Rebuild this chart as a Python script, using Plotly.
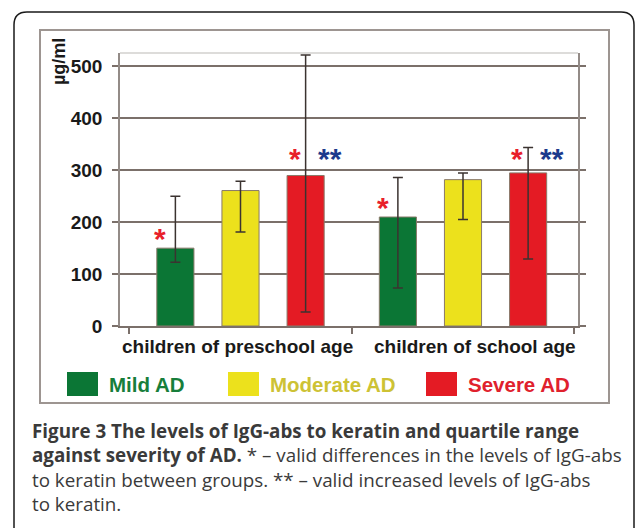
import plotly.graph_objects as go

categories = ["children of preschool age", "children of school age"]
severity = ["Mild AD", "Moderate AD", "Severe AD"]

mild_values = [150, 210]
moderate_values = [261, 282]
severe_values = [290, 295]

mild_upper = [250, 286]
mild_lower = [123, 73]
moderate_upper = [279, 295]
moderate_lower = [181, 205]
severe_upper = [522, 344]
severe_lower = [27, 129]

y_ticks = [0, 100, 200, 300, 400, 500]

# significance marks: (series, category index, text, kind)
star_marks = [
    ("Mild AD", 0, "*", "diff"),
    ("Severe AD", 0, "*", "diff"),
    ("Severe AD", 0, "**", "incr"),
    ("Mild AD", 1, "*", "diff"),
    ("Severe AD", 1, "*", "diff"),
    ("Severe AD", 1, "**", "incr"),
]
star_lift = [3, 10, 10, 3, 7, 7]

bar_colors = ["#0b7635", "#ece11c", "#e41b24"]
legend_text_colors = ["#177e3b", "#cdc234", "#e0212d"]
star_colors = {"diff": "#e8202a", "incr": "#1d3a8c"}

W, H = 635, 528
ML, MR, MT, MB = 120, 57, 53, 202
PW = W - ML - MR
PH = H - MT - MB
BARGAP = 0.122
GROUPGAP = 0.43
slot = PW / len(categories) * (1 - BARGAP) / len(severity)


def px(x):
    return (x - ML) / PW


def py(y):
    return (H - MB - y) / PH


values = [mild_values, moderate_values, severe_values]
uppers = [mild_upper, moderate_upper, severe_upper]
lowers = [mild_lower, moderate_lower, severe_lower]

fig = go.Figure()
for name, vals, up, lo, col in zip(severity, values, uppers, lowers, bar_colors):
    fig.add_bar(
        x=categories,
        y=vals,
        name=name,
        marker=dict(color=col, line=dict(color="#8a7a6a", width=1)),
        error_y=dict(
            type="data",
            symmetric=False,
            array=[u - v for u, v in zip(up, vals)],
            arrayminus=[v - l for v, l in zip(vals, lo)],
            color="#3b3330",
            thickness=1.5,
            width=5,
        ),
        showlegend=False,
    )

annotations = []
for (series, ci, txt, kind), lift in zip(star_marks, star_lift):
    si = severity.index(series)
    bar_off = (si - 1) * slot
    annotations.append(dict(
        x=categories[ci], y=values[si][ci], xref="x", yref="y",
        text=txt, showarrow=False,
        xshift=bar_off + (-13 if kind == "diff" else 22),
        yshift=lift + 7, xanchor="center", yanchor="middle",
        font=dict(family="Liberation Sans", size=30, weight="bold",
                  color=star_colors[kind]),
    ))

# category labels
for cat, shift in zip(categories, [-3, 12]):
    annotations.append(dict(
        x=cat, y=0, xref="x", yref="y", text=cat, showarrow=False,
        xshift=shift, yshift=-20, xanchor="center", yanchor="middle",
        font=dict(family="Liberation Sans", size=19, weight="bold", color="#1a1a1a"),
    ))

# axis unit
annotations.append(dict(
    x=px(59), y=py(62), xref="paper", yref="paper", text="µg/ml",
    textangle=-90, showarrow=False, xanchor="center", yanchor="middle",
    font=dict(family="Liberation Sans", size=18, weight="bold", color="#1a1a1a"),
))

shapes = []
# legend boxes
legend_sq_x = [67, 228, 426]
for name, col, tcol, x0 in zip(severity, bar_colors, legend_text_colors, legend_sq_x):
    shapes.append(dict(
        type="rect", xref="paper", yref="paper",
        x0=px(x0), x1=px(x0 + 31), y0=py(396), y1=py(372),
        fillcolor=col, line=dict(width=0),
    ))
    annotations.append(dict(
        x=px(x0 + 40), y=py(384), xref="paper", yref="paper", text=name,
        showarrow=False, xanchor="left", yanchor="middle",
        font=dict(family="Liberation Sans", size=20.5, weight="bold", color=tcol),
    ))

# caption
caption = (
    "<b>Figure 3 The levels of IgG-abs to keratin and quartile range</b><br>"
    "<b>against severity of AD.</b> * – valid differences in the levels of IgG-abs<br>"
    "to keratin between groups. ** – valid increased levels of IgG-abs<br>"
    "to keratin."
)
annotations.append(dict(
    x=px(30), y=py(416), xref="paper", yref="paper", text=caption,
    showarrow=False, xanchor="left", yanchor="top", align="left",
    font=dict(family="Open Sans", size=18.8, color="#3a3a3a"),
))

# outer rounded frame
x0, y0, x1, y1, r = 14, 12, 634, 545, 13
path = (
    f"M {px(x0 + r)},{py(y0)} L {px(x1 - r)},{py(y0)} "
    f"Q {px(x1)},{py(y0)} {px(x1)},{py(y0 + r)} L {px(x1)},{py(y1)} "
    f"L {px(x0)},{py(y1)} L {px(x0)},{py(y0 + r)} "
    f"Q {px(x0)},{py(y0)} {px(x0 + r)},{py(y0)} Z"
)
shapes.append(dict(type="path", xref="paper", yref="paper", path=path,
                   line=dict(color="#1a1a1a", width=1.5), layer="below"))
# inner chart frame
shapes.append(dict(type="rect", xref="paper", yref="paper",
                   x0=px(40), x1=px(609), y0=py(403), y1=py(30),
                   line=dict(color="#9d9591", width=2), layer="below"))
# plot area top border
shapes.append(dict(type="line", xref="paper", yref="paper",
                   x0=0, x1=1, y0=1, y1=1,
                   line=dict(color="#d2d0ce", width=1.5)))

fig.update_layout(
    width=W, height=H, autosize=False,
    margin=dict(l=ML, r=MR, t=MT, b=MB),
    paper_bgcolor="white", plot_bgcolor="white",
    barmode="group", bargap=BARGAP, bargroupgap=GROUPGAP,
    annotations=annotations, shapes=shapes,
    xaxis=dict(
        showticklabels=False, ticks="outside", tickson="boundaries",
        ticklen=6, tickcolor="#7b706a", tickwidth=1.5,
        showline=True, linecolor="#7b706a", linewidth=1.5,
        showgrid=False, automargin=False,
    ),
    yaxis=dict(
        range=[0, 526], tickvals=y_ticks, ticks="outside", ticklen=6,
        tickcolor="#7b706a", tickwidth=1.5,
        showline=True, linecolor="#938b87", linewidth=1.5, mirror="ticks",
        showgrid=True, gridcolor="#7b706a", gridwidth=1.5, zeroline=False,
        tickfont=dict(family="Liberation Sans", size=19, weight="bold", color="#1a1a1a"),
        ticklabelstandoff=6, automargin=False,
    ),
)

fig.write_html(
    "out.html",
    config={"displayModeBar": False},
    post_script="document.body.style.margin='0';",
)
